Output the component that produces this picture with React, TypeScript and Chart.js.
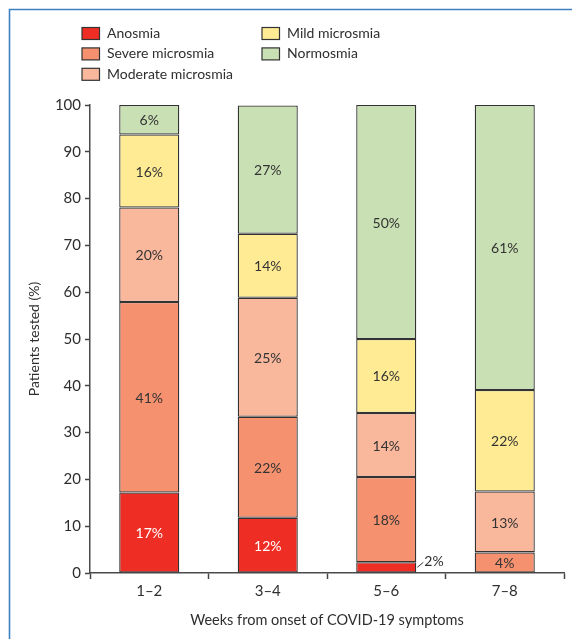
import { useEffect, useRef } from "react";
import { Chart, registerables } from "chart.js";

Chart.register(...registerables);

const categories = ["1–2", "3–4", "5–6", "7–8"];
const seriesNames = ["Anosmia", "Severe microsmia", "Moderate microsmia", "Mild microsmia", "Normosmia"];
const anosmia = [17.2, 11.8, 2.3, 0];
const severe = [40.7, 21.6, 18.2, 4.4];
const moderate = [20.2, 25.4, 13.7, 13.0];
const mild = [15.6, 13.7, 15.8, 21.7];
const normosmia = [6.3, 27.4, 50.0, 60.9];
const seriesValues = [anosmia, severe, moderate, mild, normosmia];
const seriesColors = ["#ee2e24", "#f5916f", "#f9b79c", "#feeb94", "#c9e0b4"];
const labelColors = ["#ffffff", "#333333", "#333333", "#333333", "#333333"];
const yMin = 0;
const yMax = 100;
const yStep = 10;
const yTitle = "Patients tested (%)";
const xTitle = "Weeks from onset of COVID-19 symptoms";

const FONT = "Lato, 'Open Sans', sans-serif";
const TEXT = "#2e2e2e";

const framePlugin = {
  id: "frame",
  beforeDraw(chart: any) {
    const ctx = chart.ctx;
    ctx.save();
    ctx.fillStyle = "#ffffff";
    ctx.fillRect(0, 0, chart.width, chart.height);
    ctx.strokeStyle = "#3f80c2";
    ctx.lineWidth = 1.6;
    ctx.beginPath();
    ctx.moveTo(9.5, chart.height);
    ctx.lineTo(9.5, 9.5);
    ctx.lineTo(chart.width, 9.5);
    ctx.stroke();
    ctx.restore();
  },
};

const legendPlugin = {
  id: "customLegend",
  afterDraw(chart: any) {
    const ctx = chart.ctx;
    ctx.save();
    ctx.font = `14px ${FONT}`;
    ctx.textBaseline = "middle";
    ctx.textAlign = "left";
    chart.data.datasets.forEach((ds: any, i: number) => {
      const col = i < 3 ? 0 : 1;
      const row = i < 3 ? i : i - 3;
      const bx = col === 0 ? 82 : 262;
      const cy = 33.5 + row * 20.4;
      ctx.fillStyle = ds.backgroundColor;
      ctx.fillRect(bx, cy - 6, 17.5, 12);
      ctx.strokeStyle = "#333";
      ctx.lineWidth = 1.2;
      ctx.strokeRect(bx, cy - 6, 17.5, 12);
      ctx.fillStyle = TEXT;
      ctx.fillText(ds.label, bx + 25, cy);
    });
    ctx.restore();
  },
};

const valueLabelPlugin = {
  id: "valueLabels",
  afterDatasetsDraw(chart: any) {
    const ctx = chart.ctx;
    ctx.save();
    ctx.font = `14px ${FONT}`;
    chart.data.datasets.forEach((ds: any, i: number) => {
      const meta = chart.getDatasetMeta(i);
      meta.data.forEach((bar: any, j: number) => {
        const v = ds.data[j];
        if (!v) return;
        const text = `${Math.round(v)}%`;
        const top = Math.min(bar.y, bar.base);
        const bottom = Math.max(bar.y, bar.base);
        const cy = (top + bottom) / 2;
        if (bottom - top < 14) {
          const right = bar.x + bar.width / 2;
          ctx.strokeStyle = "#333";
          ctx.lineWidth = 1;
          ctx.beginPath();
          ctx.moveTo(right + 1, cy);
          ctx.lineTo(right + 7, cy - 5);
          ctx.stroke();
          ctx.fillStyle = TEXT;
          ctx.textAlign = "left";
          ctx.textBaseline = "middle";
          ctx.fillText(text, right + 8, cy - 6);
        } else {
          ctx.fillStyle = labelColors[i];
          ctx.textAlign = "center";
          ctx.textBaseline = "middle";
          ctx.fillText(text, bar.x, cy + 1);
        }
      });
    });
    ctx.restore();
  },
};

export default function App() {
  const ref = useRef<HTMLCanvasElement | null>(null);
  useEffect(() => {
    if (!ref.current) return;
    const chart = new Chart(ref.current, {
      type: "bar",
      data: {
        labels: categories,
        datasets: seriesNames.map((name, i) => ({
          label: name,
          data: seriesValues[i],
          backgroundColor: seriesColors[i],
          borderColor: "#333333",
          borderWidth: 1.3,
          borderSkipped: false,
          barPercentage: 0.507,
          categoryPercentage: 1.0,
        })),
      },
      options: {
        responsive: false,
        animation: false,
        devicePixelRatio: 1,
        layout: { padding: { top: 105, right: 8, left: 0, bottom: 0 } },
        plugins: {
          legend: { display: false },
          tooltip: { enabled: false },
          title: { display: false },
        },
        scales: {
          x: {
            stacked: true,
            afterFit: (s: any) => {
              s.height = 66;
            },
            grid: {
              drawOnChartArea: false,
              drawTicks: true,
              tickLength: 6,
              tickColor: "#444",
              tickWidth: 1.5,
            },
            border: { display: true, color: "#4a4a4a", width: 1.5 },
            ticks: {
              color: TEXT,
              font: { family: FONT, size: 15 },
              padding: 3,
            },
            title: {
              display: true,
              text: xTitle,
              color: TEXT,
              font: { family: FONT, size: 14.5 },
              padding: { top: 0, bottom: 10 },
            },
          },
          y: {
            stacked: true,
            min: yMin,
            max: yMax,
            afterFit: (s: any) => {
              s.width = 90;
            },
            grid: {
              drawOnChartArea: false,
              drawTicks: true,
              tickLength: 5,
              tickColor: "#444",
              tickWidth: 1.5,
            },
            border: { display: true, color: "#4a4a4a", width: 1.5 },
            ticks: {
              stepSize: yStep,
              color: TEXT,
              font: { family: FONT, size: 15 },
              padding: 4,
            },
            title: {
              display: true,
              text: yTitle,
              color: TEXT,
              font: { family: FONT, size: 14 },
              padding: { top: 26, bottom: 0 },
            },
          },
        },
      },
      plugins: [framePlugin, legendPlugin, valueLabelPlugin],
    });
    return () => chart.destroy();
  }, []);
  return (
    <div style={{ position: "fixed", left: 0, top: 0, width: 572, height: 639, background: "#fff" }}>
      <canvas ref={ref} width={572} height={639} style={{ display: "block" }} />
    </div>
  );
}
